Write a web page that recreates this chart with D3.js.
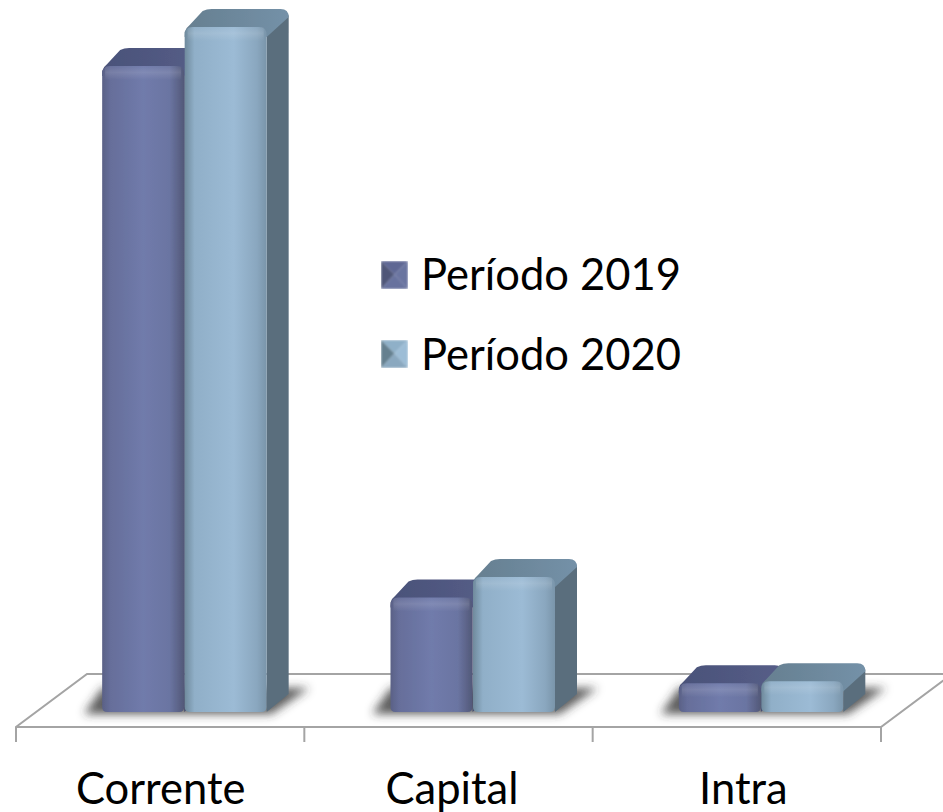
<!DOCTYPE html>
<html>
<head>
<meta charset="utf-8">
<script src="https://cdnjs.cloudflare.com/ajax/libs/d3/7.8.5/d3.min.js"></script>
<style>
  html, body { margin: 0; padding: 0; background: #fff; }
  svg { display: block; font-family: Lato, sans-serif; }
  .floor { fill: none; stroke: #a4a4a4; stroke-width: 2; }
</style>
</head>
<body>
<svg id="chart" width="943" height="812"></svg>
<script>
var categories = ["Corrente", "Capital", "Intra"];
var seriesNames = ["Período 2019", "Período 2020"];
var values2019 = [94.3, 16.7, 4.2];
var values2020 = [100, 19.7, 4.5];

var frontStops = [
  [[0, "#5a6186"], [0.1, "#666e9a"], [0.5, "#707bab"], [0.82, "#6b75a2"], [1, "#525878"]],
  [[0, "#6f8a9c"], [0.12, "#90afc8"], [0.6, "#9cbbd5"], [0.88, "#8aa7bf"], [1, "#7a95aa"]]
];
var topStops = [
  [[0, "#4a5279"], [1, "#565e88"]],
  [[0, "#667f90"], [1, "#7491a8"]]
];
var sideColors = ["#474e70", "#5a6e7d"];
var swatchColors = [
  ["#5f6894", "#4f5678", "#6a74a0", "#68729e"],
  ["#8fb0c8", "#65808f", "#9dbdd6", "#8aa8bf"]
];

var svg = d3.select("#chart");
var defs = svg.append("defs");

var left = 16, right = 881, frontY = 727, tickLen = 15;
var floorDx = 71, floorDy = 53;
var depthX = 22, depthY = 18;
var groupW = 165, r = 8;
var shift = 24.5;

var x0 = d3.scaleBand().domain(categories).range([left + shift, right + shift]).padding(0);
var x1 = d3.scaleBand().domain(seriesNames).range([0, groupW]);
var y = d3.scaleLinear().domain([0, 100]).range([712, 27]);
var tickX = d3.scaleBand().domain(categories).range([left, right]);
var labelX = d3.scaleBand().domain(categories).range([15, 889]);

function addGrad(id, stops, vertical) {
  var g = defs.append("linearGradient").attr("id", id)
    .attr("x1", 0).attr("y1", 0)
    .attr("x2", vertical ? 0 : 1).attr("y2", vertical ? 1 : 0);
  stops.forEach(function(s) {
    g.append("stop").attr("offset", s[0]).attr("stop-color", s[1]).attr("stop-opacity", s[2] === undefined ? 1 : s[2]);
  });
}
frontStops.forEach(function(s, i) { addGrad("front" + i, s); });
topStops.forEach(function(s, i) { addGrad("top" + i, s); });
addGrad("shine", [[0, "#ffffff", 0.02], [0.45, "#ffffff", 0.12], [1, "#ffffff", 0]], true);

defs.append("filter").attr("id", "shadowBlur")
  .attr("x", "-20%").attr("y", "-60%").attr("width", "140%").attr("height", "220%")
  .append("feGaussianBlur").attr("stdDeviation", 5);
defs.append("filter").attr("id", "soft")
  .attr("x", "-5%").attr("y", "-5%").attr("width", "110%").attr("height", "110%")
  .append("feGaussianBlur").attr("stdDeviation", 0.7);
defs.append("filter").attr("id", "softSwatch")
  .append("feGaussianBlur").attr("stdDeviation", 1);

// floor
var floorPath = "M" + left + "," + (frontY + tickLen) + "L" + left + "," + frontY +
  "L" + (left + floorDx) + "," + (frontY - floorDy) + "L" + (right + floorDx) + "," + (frontY - floorDy) +
  "L" + right + "," + frontY + "L" + left + "," + frontY;
svg.append("path").attr("class", "floor").attr("d", floorPath);
svg.selectAll(".tick-line")
  .data(d3.range(categories.length + 1))
  .enter().append("line")
  .attr("class", "floor tick-line")
  .attr("x1", function(i) { return left + i * tickX.step(); })
  .attr("x2", function(i) { return left + i * tickX.step(); })
  .attr("y1", frontY)
  .attr("y2", frontY + tickLen);

// category labels
var axis = svg.append("g")
  .attr("transform", "translate(0," + frontY + ")")
  .call(d3.axisBottom(labelX).tickSize(0).tickPadding(46));
axis.select(".domain").remove();
axis.selectAll("text").attr("font-family", "Lato, sans-serif").attr("font-size", 43.5).attr("fill", "#000");

// floor shadows
svg.selectAll(".shadow")
  .data(categories)
  .enter().append("path")
  .attr("class", "shadow")
  .attr("filter", "url(#shadowBlur)")
  .attr("fill", "#333")
  .attr("fill-opacity", 0.8)
  .attr("d", function(c) {
    var a = x0(c) + (x0.step() - groupW) / 2, b = a + groupW, base = y(0) + 2;
    return "M" + (a - 18) + "," + base + "L" + (b + 4) + "," + base +
      "L" + (b + 42) + "," + (base - 26) + "L" + a + "," + (base - 26) + "Z";
  });

var bars = [];
categories.forEach(function(c, i) {
  bars.push({ cat: c, s: 0, v: values2019[i] });
  bars.push({ cat: c, s: 1, v: values2020[i] });
});

function frontPath(a, t, w, b) {
  return "M" + a + "," + (t + r) + "Q" + a + "," + t + " " + (a + r) + "," + t +
    "L" + (a + w - r) + "," + t + "Q" + (a + w) + "," + t + " " + (a + w) + "," + (t + r) +
    "L" + (a + w) + "," + (b - 5) + "Q" + (a + w) + "," + b + " " + (a + w - 5) + "," + b +
    "L" + (a + 5) + "," + b + "Q" + a + "," + b + " " + a + "," + (b - 5) + "Z";
}
function topPath(a, t, w) {
  var ex = a + w + depthX, ty = t - depthY;
  return "M" + a + "," + (t + 5) + "Q" + (a + 1) + "," + (t + 1) + " " + (a + 5) + "," + (t - 2) +
    "L" + (a + depthX - 4) + "," + (ty + 2) + "Q" + (a + depthX) + "," + ty + " " + (a + depthX + 5) + "," + ty +
    "L" + (ex - r) + "," + ty + "Q" + ex + "," + ty + " " + ex + "," + (ty + r) +
    "L" + (a + w) + "," + (t + r + 2) + "L" + a + "," + (t + r + 2) + "Z";
}
function sidePath(a, t, w, b) {
  var e = a + w, ex = e + depthX, ty = t - depthY;
  return "M" + e + "," + (t + 6) + "L" + ex + "," + (ty + 6) +
    "L" + ex + "," + (b - depthY) + "L" + e + "," + b + "Z";
}

svg.append("g").attr("filter", "url(#soft)")
  .selectAll("g")
  .data(bars)
  .enter().append("g")
  .each(function(d) {
    var g = d3.select(this);
    var a = x0(d.cat) + (x0.step() - groupW) / 2 + x1(seriesNames[d.s]);
    var w = x1.bandwidth() - 0.5;
    var t = y(d.v), b = y(0);
    g.append("path").attr("d", sidePath(a, t, w, b)).attr("fill", sideColors[d.s]);
    g.append("path").attr("d", topPath(a, t, w)).attr("fill", "url(#top" + d.s + ")");
    g.append("path").attr("d", frontPath(a, t, w, b)).attr("fill", "url(#front" + d.s + ")");
    g.append("rect").attr("x", a + 3).attr("y", t).attr("width", w - 6)
      .attr("height", Math.min(14, (b - t) / 2)).attr("fill", "url(#shine)");
  });

// legend
var legendY = d3.scalePoint().domain(seriesNames).range([261, 340]);
var sw = 27;
var legend = svg.selectAll(".legend")
  .data(seriesNames)
  .enter().append("g")
  .attr("class", "legend")
  .attr("transform", function(d) { return "translate(381," + legendY(d) + ")"; });
legend.each(function(d, i) {
  var g = d3.select(this), m = sw / 2;
  var tris = [
    [[0, 0], [sw, 0], [m, m]],
    [[0, 0], [0, sw + 1], [m, m]],
    [[sw, 0], [sw, sw + 1], [m, m]],
    [[0, sw + 1], [sw, sw + 1], [m, m]]
  ];
  var clipId = "swatchClip" + i;
  defs.append("clipPath").attr("id", clipId).append("rect").attr("width", sw).attr("height", sw + 1);
  g.append("g").attr("clip-path", "url(#" + clipId + ")")
    .append("g").attr("filter", "url(#softSwatch)")
    .selectAll("polygon").data(tris).enter().append("polygon")
    .attr("points", function(p) { return p.join(" "); })
    .attr("fill", function(p, j) { return swatchColors[i][j]; });
  g.append("text").attr("x", 40).attr("y", 29 + i)
    .attr("font-size", 43.5).attr("fill", "#000").text(d);
});
</script>
</body>
</html>
